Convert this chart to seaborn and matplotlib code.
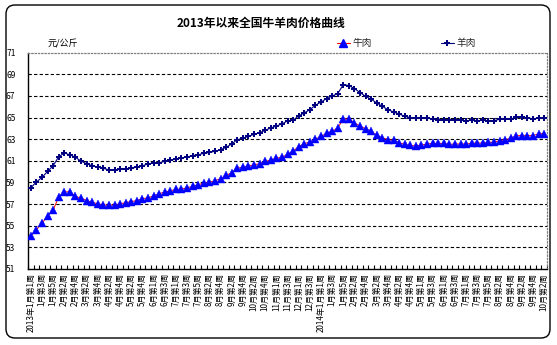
import numpy as np
import pandas as pd
import matplotlib
matplotlib.use("Agg")
import matplotlib.pyplot as plt
import seaborn as sns
from matplotlib.patches import FancyBboxPatch
from matplotlib.lines import Line2D
from matplotlib.transforms import IdentityTransform

sns.set_theme(style="white")
plt.rcParams['font.family'] = ['Noto Sans CJK SC', 'DejaVu Sans']
plt.rcParams['axes.unicode_minus'] = False

# Weekly average prices, yuan per kg (2013 week 1 .. 2014 October)
beef = [54.02, 54.64, 55.23, 55.90, 56.43, 57.67, 58.13, 58.13, 57.73, 57.54,
        57.33, 57.17, 57.02, 56.93, 56.90, 56.93, 57.02, 57.14, 57.23, 57.33,
        57.51, 57.57, 57.76, 57.96, 58.11, 58.23, 58.36, 58.39, 58.51, 58.64,
        58.79, 58.94, 59.04, 59.16, 59.35, 59.65, 59.90, 60.33, 60.40, 60.52,
        60.64, 60.73, 60.95, 61.07, 61.26, 61.32, 61.60, 61.91, 62.31, 62.59,
        62.74, 62.99, 63.27, 63.54, 63.73, 64.04, 64.87, 64.87, 64.53, 64.19,
        63.98, 63.73, 63.36, 63.14, 62.96, 62.90, 62.68, 62.52, 62.43, 62.37,
        62.46, 62.56, 62.62, 62.62, 62.62, 62.52, 62.56, 62.56, 62.56, 62.62,
        62.65, 62.65, 62.71, 62.74, 62.86, 62.96, 63.08, 63.33, 63.33, 63.33,
        63.33, 63.51, 63.51]

mutton = [58.51, 59.04, 59.47, 60.02, 60.55, 61.38, 61.72, 61.57, 61.32, 60.98,
          60.73, 60.55, 60.43, 60.30, 60.18, 60.15, 60.21, 60.24, 60.30, 60.43,
          60.55, 60.70, 60.83, 60.83, 60.95, 61.04, 61.17, 61.26, 61.35, 61.48,
          61.57, 61.69, 61.78, 61.88, 62.03, 62.25, 62.56, 62.96, 63.08, 63.27,
          63.45, 63.60, 63.82, 64.04, 64.22, 64.41, 64.69, 64.75, 65.15, 65.43,
          65.73, 66.14, 66.44, 66.75, 67.00, 67.22, 68.05, 67.96, 67.68, 67.31,
          66.97, 66.69, 66.35, 66.04, 65.73, 65.52, 65.33, 65.12, 65.00, 64.96,
          64.93, 64.93, 64.90, 64.81, 64.75, 64.78, 64.78, 64.75, 64.72, 64.75,
          64.72, 64.75, 64.69, 64.72, 64.84, 64.84, 64.87, 65.02, 65.06, 64.99,
          64.87, 64.96, 64.96]

# Category labels shown on every other week
week_labels = [
    "2013年1月第1周", "1月第3周", "1月第5周", "2月第2周", "2月第4周", "3月第2周",
    "3月第4周", "4月第2周", "4月第4周", "5月第2周", "5月第4周", "6月第1周",
    "6月第3周", "7月第1周", "7月第3周", "7月第5周", "8月第2周", "8月第4周",
    "9月第2周", "9月第4周", "10月第2周", "10月第4周", "11月第1周", "11月第3周",
    "12月第1周", "12月第3周", "2014年1月第1周", "1月第3周", "1月第5周", "2月第2周",
    "2月第4周", "3月第2周", "3月第4周", "4月第2周", "4月第4周", "5月第1周",
    "5月第3周", "6月第1周", "6月第3周", "7月第1周", "7月第3周", "7月第5周",
    "8月第2周", "8月第4周", "9月第2周", "9月第4周", "10月第2周"]

y_ticks = list(range(51, 72, 2))

week = np.arange(len(beef))
df = pd.DataFrame({"week": week, "beef": beef, "mutton": mutton})

W, H = 557, 345
fig = plt.figure(figsize=(W / 100, H / 100), dpi=100)
fig.patch.set_facecolor("white")
ax = fig.add_axes([28 / W, 1 - 269 / H, (547 - 28) / W, (269 - 52.7) / H])
ax.set_facecolor("white")

sns.lineplot(data=df, x="week", y="beef", ax=ax, color="#FF0000", lw=0.7,
             marker="^", markersize=5.2, markerfacecolor="#0000FF",
             markeredgecolor="#0000FF", markeredgewidth=0.3, zorder=3)
sns.lineplot(data=df, x="week", y="mutton", ax=ax, color="#000080", lw=0.8,
             marker="P", markersize=3.8, markerfacecolor="#000080",
             markeredgewidth=0, zorder=3)

ax.set_xlim(-0.5, len(beef) - 0.5)
ax.set_ylim(51, 71)
ax.set_xlabel("")
ax.set_ylabel("")

for v in y_ticks[1:-1]:
    ax.axhline(v, color="black", lw=0.8, dashes=(3, 2), zorder=1)

ax.set_yticks(y_ticks)
ax.set_yticklabels([str(v) for v in y_ticks])
ax.tick_params(axis="y", length=0, pad=9, labelsize=6, labelcolor="black")

ax.set_xticks(week[::2])
ax.set_xticklabels(week_labels, rotation=90, fontsize=5.8, color="black")
ax.tick_params(axis="x", which="major", length=0, pad=3)
ax.set_xticks(np.arange(-0.5, len(beef), 1), minor=True)
ax.tick_params(axis="x", which="minor", direction="in", length=3, width=0.8,
               color="black", bottom=True)

for side in ("left", "bottom"):
    ax.spines[side].set_color("black")
    ax.spines[side].set_linewidth(1.0)
for side in ("top", "right"):
    ax.spines[side].set_color("#808080")
    ax.spines[side].set_linestyle(":")
    ax.spines[side].set_linewidth(0.9)

# Title, unit and legend
fig.text(261 / W, 1 - 23 / H, "2013年以来全国牛羊肉价格曲线", ha="center",
         va="center", fontsize=8.5, fontweight="bold", color="black")
fig.text(48 / W, 1 - 44 / H, "元/公斤", ha="left", va="center", fontsize=6.5,
         style="italic", color="black")

beef_handle = Line2D([], [], color="#FF0000", lw=0.8, marker="^", markersize=5.2,
                     markerfacecolor="#0000FF", markeredgecolor="#0000FF")
mutton_handle = Line2D([], [], color="#000080", lw=0.8, marker="P",
                       markersize=3.8, markerfacecolor="#000080",
                       markeredgewidth=0)
for handle, text, x0 in ((beef_handle, "牛肉", 337), (mutton_handle, "羊肉", 441)):
    fig.legend([handle], [text], loc="center left",
               bbox_to_anchor=(x0 / W, 1 - 43 / H), frameon=False,
               fontsize=7, handlelength=1.3, handletextpad=0.25,
               borderpad=0, borderaxespad=0)

# Rounded chart frame
frame = FancyBboxPatch((6, 7), 544, 333, boxstyle="round,pad=0,rounding_size=9",
                       transform=IdentityTransform(), fill=False,
                       edgecolor="black", lw=1.0)
fig.add_artist(frame)

fig.savefig("out.png", dpi=100, facecolor="white")
